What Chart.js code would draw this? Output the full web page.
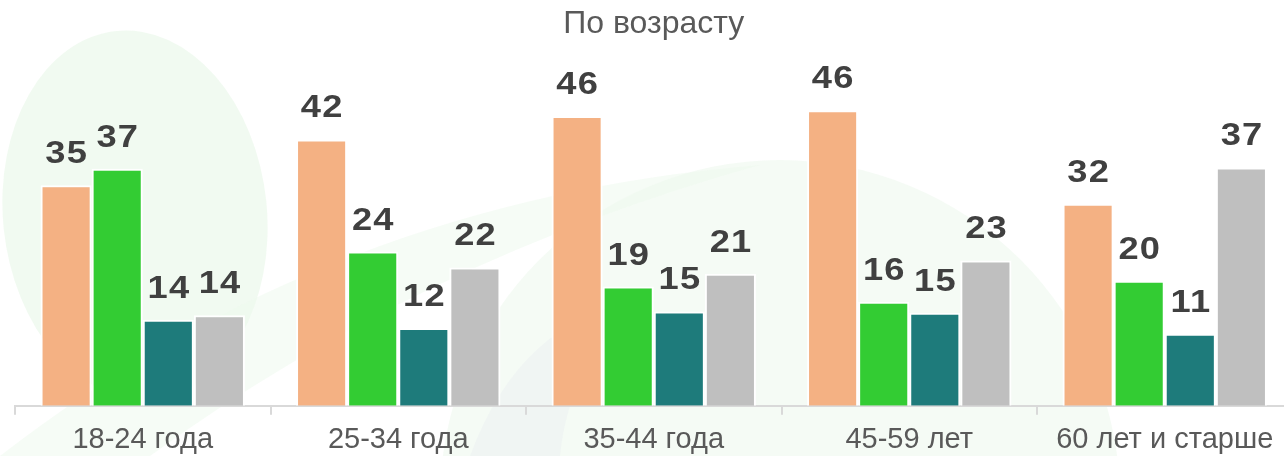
<!DOCTYPE html>
<html>
<head>
<meta charset="utf-8">
<script src="https://cdn.jsdelivr.net/npm/chart.js@4"></script>
<style>
  html, body { margin: 0; padding: 0; background: #fff; overflow: hidden; }
  #wrap { position: relative; width: 1294px; height: 456px; }
</style>
</head>
<body>
<div id="wrap"><canvas id="ageChart"></canvas></div>
<script>
// categories (age groups)
const labels = ['18-24 года', '25-34 года', '35-44 года', '45-59 лет', '60 лет и старше'];

// series values
const orangeValues = [34.6, 41.8, 45.5, 46.4, 31.7];
const greenValues  = [37.2, 24.2, 18.7, 16.3, 19.6];
const tealValues   = [13.5, 12.2, 14.8, 14.6, 11.3];
const greyValues   = [14.2, 21.7, 20.7, 22.8, 37.4];

const seriesColors = ['#F4B183', '#33CC33', '#1E7B7B', '#BFBFBF'];

// faint decorative shapes behind the chart
const backgroundShapes = {
  id: 'backgroundShapes',
  beforeDraw(chart) {
    const ctx = chart.ctx;
    ctx.save();
    ctx.fillStyle = 'rgba(232, 247, 232, 0.6)';
    ctx.beginPath();
    ctx.ellipse(135, 215, 132, 185, -0.1, 0, Math.PI * 2);
    ctx.fill();

    ctx.fillStyle = 'rgba(236, 248, 236, 0.55)';
    ctx.beginPath();
    ctx.arc(780, 500, 340, 0, Math.PI * 2);
    ctx.fill();

    ctx.fillStyle = 'rgba(238, 249, 238, 0.55)';
    ctx.beginPath();
    ctx.moveTo(0, 456);
    ctx.quadraticCurveTo(330, 200, 760, 165);
    ctx.quadraticCurveTo(420, 260, 150, 456);
    ctx.closePath();
    ctx.fill();

    ctx.fillStyle = 'rgba(236, 241, 242, 0.6)';
    ctx.beginPath();
    ctx.moveTo(470, 456);
    ctx.quadraticCurveTo(520, 320, 640, 300);
    ctx.quadraticCurveTo(570, 360, 560, 456);
    ctx.closePath();
    ctx.fill();
    ctx.restore();
  }
};

// value labels above each bar
const valueLabels = {
  id: 'valueLabels',
  afterDatasetsDraw(chart) {
    const ctx = chart.ctx;
    ctx.save();
    ctx.font = 'bold 31px "Liberation Sans", Arial, sans-serif';
    ctx.fillStyle = '#404040';
    ctx.textAlign = 'center';
    ctx.textBaseline = 'alphabetic';
    if ('letterSpacing' in ctx) ctx.letterSpacing = '1px';
    chart.data.datasets.forEach((ds, i) => {
      chart.getDatasetMeta(i).data.forEach((bar, j) => {
        ctx.save();
        ctx.translate(bar.x, bar.y - 22);
        ctx.scale(1.17, 1);
        ctx.fillText(String(Math.round(ds.data[j])), 0.5, 0);
        ctx.restore();
      });
    });
    ctx.restore();
  }
};

function series(data, color) {
  return {
    data: data,
    backgroundColor: color,
    borderColor: '#ffffff',
    borderWidth: 2,
    barPercentage: 1,
    categoryPercentage: 0.8
  };
}

new Chart(document.getElementById('ageChart'), {
  type: 'bar',
  data: {
    labels: labels,
    datasets: [
      series(orangeValues, seriesColors[0]),
      series(greenValues, seriesColors[1]),
      series(tealValues, seriesColors[2]),
      series(greyValues, seriesColors[3])
    ]
  },
  options: {
    responsive: true,
    maintainAspectRatio: false,
    animation: false,
    layout: { padding: { left: 15, right: 1.5, top: 0, bottom: -10 } },
    plugins: {
      legend: { display: false },
      tooltip: { enabled: false },
      title: {
        display: true,
        text: 'По возрасту',
        color: '#595959',
        font: { family: '"Liberation Sans", Arial, sans-serif', size: 32, weight: 'normal', lineHeight: 1.2 },
        padding: { top: 5, bottom: 12 }
      }
    },
    scales: {
      x: {
        grid: {
          display: true,
          drawOnChartArea: false,
          drawTicks: true,
          tickLength: 9,
          color: '#D9D9D9',
          lineWidth: 2,
          offset: true
        },
        border: { display: true, color: '#D9D9D9', width: 2 },
        ticks: {
          color: '#595959',
          padding: 9,
          maxRotation: 0,
          autoSkip: false,
          font: { family: '"Liberation Sans", Arial, sans-serif', size: 29, lineHeight: 1.15 }
        }
      },
      y: {
        display: false,
        min: 0,
        max: 55
      }
    }
  },
  plugins: [backgroundShapes, valueLabels]
});
</script>
</body>
</html>
